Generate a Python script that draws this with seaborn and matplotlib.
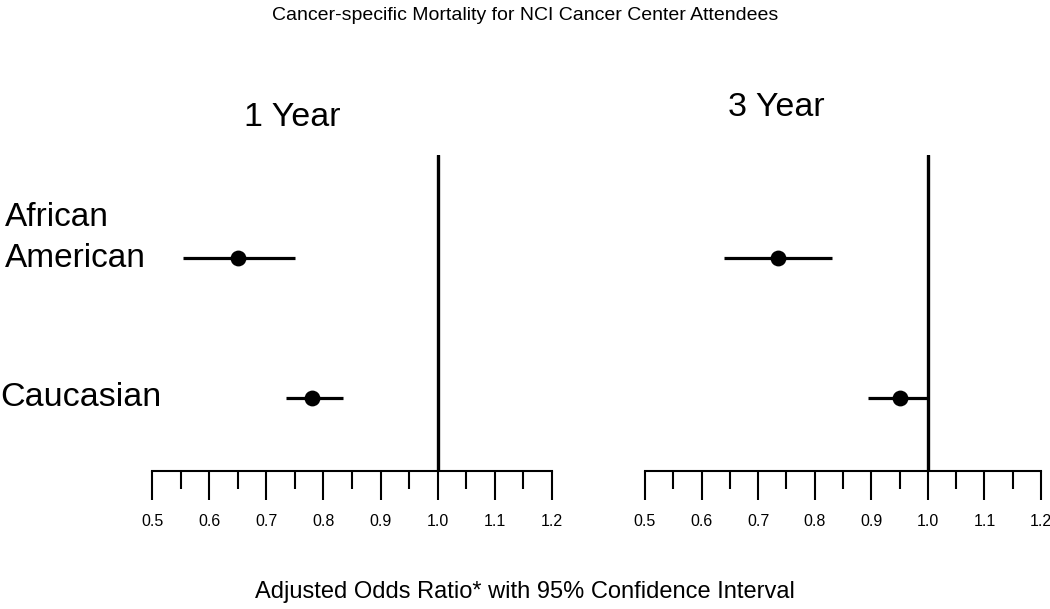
import matplotlib
matplotlib.use("Agg")
import matplotlib.pyplot as plt
import seaborn as sns
import pandas as pd
import numpy as np

# data
groups = ["African American", "Caucasian"]
row_labels = ["African\nAmerican", "Caucasian"]
panels = ["1 Year", "3 Year"]
odds_1yr = [0.65, 0.78]
lower_1yr = [0.555, 0.735]
upper_1yr = [0.75, 0.835]
odds_3yr = [0.735, 0.95]
lower_3yr = [0.64, 0.895]
upper_3yr = [0.83, 1.0]
tick_vals = [0.5, 0.6, 0.7, 0.8, 0.9, 1.0, 1.1, 1.2]
tick_labels = ["0.5", "0.6", "0.7", "0.8", "0.9", "1.0", "1.1", "1.2"]

df = pd.DataFrame({
    "panel": np.repeat(panels, 2),
    "group": groups * 2,
    "row": [0, 1] * 2,
    "odds": odds_1yr + odds_3yr,
    "lower": lower_1yr + lower_3yr,
    "upper": upper_1yr + upper_3yr,
})

sns.set_style("white")
plt.rcParams["font.family"] = ["Liberation Sans", "DejaVu Sans"]
plt.rcParams["text.color"] = "black"
plt.rcParams["xtick.color"] = "black"
plt.rcParams["xtick.labelcolor"] = "black"

fig = plt.figure(figsize=(10.5, 6.09), dpi=100)
ax1 = fig.add_axes([152 / 1050, 0.2266, 400 / 1050, 0.519])
ax2 = fig.add_axes([645 / 1050, 0.2266, 396 / 1050, 0.519])

for ax, panel in zip([ax1, ax2], panels):
    sub = df[df["panel"] == panel]
    ax.hlines(sub["row"], sub["lower"], sub["upper"], color="black", lw=2.3, zorder=2)
    sns.scatterplot(data=sub, x="odds", y="row", ax=ax, color="black", s=130,
                    edgecolor="black", linewidth=0, zorder=3, legend=False)
    ax.axvline(1.0, color="black", lw=2.4, zorder=1)
    ax.set_xlim(0.5, 1.2)
    ax.set_ylim(1.52, -0.736)
    ax.set_xticks(tick_vals)
    ax.set_xticklabels(tick_labels, fontsize=11.5)
    ax.set_xticks(np.array(tick_vals[:-1]) + 0.05, minor=True)
    ax.tick_params(axis="x", which="major", direction="out", length=21, width=1.5,
                   pad=10, bottom=True, color="black")
    ax.tick_params(axis="x", which="minor", direction="out", length=13, width=1.5,
                   bottom=True, color="black")
    ax.set_yticks([])
    ax.set_xlabel("")
    ax.set_ylabel("")
    for s in ["top", "right", "left"]:
        ax.spines[s].set_visible(False)
    ax.spines["bottom"].set_linewidth(1.5)
    ax.spines["bottom"].set_color("black")

fig.text(0.5, 1 - 16 / 609, "Cancer-specific Mortality for NCI Cancer Center Attendees",
         ha="center", va="center", fontsize=14)
fig.text(292 / 1050, 1 - 117 / 609, panels[0], ha="center", va="center", fontsize=24.5)
fig.text(776 / 1050, 1 - 107 / 609, panels[1], ha="center", va="center", fontsize=24.5)
fig.text(5 / 1050, 1 - 238 / 609, row_labels[0], ha="left", va="center", fontsize=24,
         linespacing=1.4)
fig.text(0 / 1050, 1 - 397 / 609, row_labels[1], ha="left", va="center", fontsize=24.5)
fig.text(0.5, 1 - 592 / 609, "Adjusted Odds Ratio* with 95% Confidence Interval",
         ha="center", va="center", fontsize=17)

fig.savefig("out.png", dpi=100)
